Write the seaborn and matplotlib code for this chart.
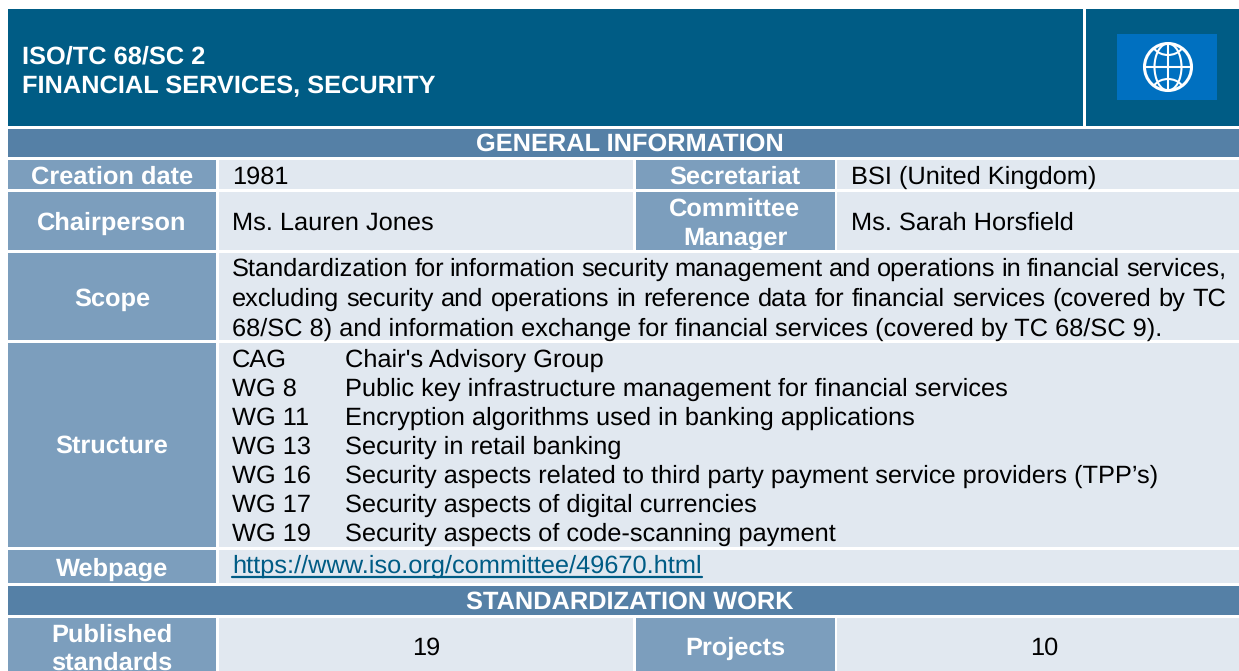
import matplotlib

matplotlib.use("Agg")
import matplotlib.pyplot as plt
import seaborn as sns
from matplotlib.patches import Arc, Circle, Ellipse, Rectangle

title_lines = ["ISO/TC 68/SC 2", "FINANCIAL SERVICES, SECURITY"]
band_titles = ["GENERAL INFORMATION", "STANDARDIZATION WORK"]
row_labels = ["Creation date", "Chairperson", "Scope", "Structure", "Webpage", "Published\nstandards"]
pair_labels = ["Secretariat", "Committee\nManager", "Projects"]
row_values = ["1981", "Ms. Lauren Jones"]
pair_values = ["BSI (United Kingdom)", "Ms. Sarah Horsfield"]
scope_lines = [
    "Standardization for information security management and operations in financial services,",
    "excluding security and operations in reference data for financial services (covered by TC",
    "68/SC 8) and information exchange for financial services (covered by TC 68/SC 9).",
]
group_codes = ["CAG", "WG 8", "WG 11", "WG 13", "WG 16", "WG 17", "WG 19"]
group_names = [
    "Chair's Advisory Group",
    "Public key infrastructure management for financial services",
    "Encryption algorithms used in banking applications",
    "Security in retail banking",
    "Security aspects related to third party payment service providers (TPP’s)",
    "Security aspects of digital currencies",
    "Security aspects of code-scanning payment",
]
webpage = "https://www.iso.org/committee/49670.html"
published_standards = 19
projects = 10

DARK = "#005C85"
BAND = "#5580A6"
LABEL = "#7C9EBD"
VALUE = "#E1E8F0"
LINK = "#005C85"
GLOBE = "#0070C0"
SIZE = 18.3

sns.set_theme(style="white")
plt.rcParams["font.family"] = ["Liberation Sans", "DejaVu Sans"]
plt.rcParams["text.hinting"] = "none"

fig, ax = plt.subplots(figsize=(12.39, 6.71), dpi=100)
ax.set_position([0, 0, 1, 1])
ax.set_xlim(0, 1239)
ax.set_ylim(671, 0)
ax.axis("off")


def cell(x0, x1, y0, y1, color):
    ax.add_patch(Rectangle((x0, y0), x1 - x0, y1 - y0, fc=color, ec="none"))


def label(x, y, s, ha="center", spacing=1.15, va="center"):
    ax.text(x, y, s, fontsize=SIZE, color="white", ha=ha, va=va, fontweight="bold",
            linespacing=spacing, clip_on=True)


def body(x, y, s, ha="left", color="black"):
    # y is the baseline
    return ax.text(x, y, s, fontsize=SIZE, color=color, ha=ha, va="baseline", clip_on=True)


def justified(x0, x1, y, s):
    # word by word so the line ends at the cell edge, like the original
    words = s.split(" ")
    rend = fig.canvas.get_renderer()
    widths = []
    for w in words:
        t = body(0, y, w)
        widths.append(t.get_window_extent(rend).width)
        t.remove()
    gap = (x1 - x0 - sum(widths)) / (len(words) - 1)
    x = x0
    for w, wd in zip(words, widths):
        body(x, y, w)
        x += wd + gap


# header
cell(8, 1083, 9, 126, DARK)
cell(1086, 1239, 9, 126, DARK)
label(22, 63, title_lines[0], ha="left", va="baseline")
label(22, 93, title_lines[1], ha="left", va="baseline")

# globe icon
cell(1117, 1217, 34, 100, GLOBE)
gx, gy = 1168, 67
ax.add_patch(Circle((gx, gy), 23.5, fc="none", ec="white", lw=2.2))
ax.add_patch(Ellipse((gx, gy), 27, 47, fc="none", ec="white", lw=1.5))
ax.plot([gx, gx], [gy - 23, gy + 23], color="white", lw=1.5)
ax.plot([gx - 23, gx + 23], [gy, gy], color="white", lw=1.5)
ax.add_patch(Arc((gx, gy - 26), 33, 28, theta1=30, theta2=150, ec="white", lw=1.5))
ax.add_patch(Arc((gx, gy + 26), 33, 28, theta1=210, theta2=330, ec="white", lw=1.5))

# bands
cell(8, 1239, 129, 157, BAND)
label(630, 144, band_titles[0])
cell(8, 1239, 586, 615, BAND)
label(630, 602, band_titles[1])

# left label column
rows = [(160, 189), (192, 250), (253, 340), (343, 547), (550, 583), (618, 671)]
for (y0, y1) in rows:
    cell(8, 216, y0, y1, LABEL)
for (y0, y1) in rows[2:5]:
    cell(219, 1239, y0, y1, VALUE)
label(112, 177, row_labels[0])
label(112, 223, row_labels[1])
label(112, 299, row_labels[2])
label(112, 446, row_labels[3])
label(112, 569, row_labels[4])
# the second line runs past the bottom edge in the original too
label(112, 649, row_labels[5], spacing=1.27)

# rows with a second label/value pair
for (y0, y1) in [rows[0], rows[1], rows[5]]:
    cell(219, 633, y0, y1, VALUE)
    cell(636, 835, y0, y1, LABEL)
    cell(837, 1239, y0, y1, VALUE)
label(735, 177, pair_labels[0])
label(735, 224, pair_labels[1], spacing=1.33)
label(735, 648, pair_labels[2])

body(232, 184, row_values[0])
body(232, 230, row_values[1])
body(851, 184, pair_values[0])
body(851, 230, pair_values[1])
body(426, 655, str(published_standards), ha="center")
body(1044, 655, str(projects), ha="center")

# scope text
justified(232, 1226, 276, scope_lines[0])
justified(232, 1226, 306, scope_lines[1])
body(232, 336, scope_lines[2])

# working groups
for i, (code, name) in enumerate(zip(group_codes, group_names)):
    body(232, 367 + 29 * i, code)
    body(345, 367 + 29 * i, name)

# link
t = body(232, 573, webpage, color=LINK)
ext = t.get_window_extent(fig.canvas.get_renderer())
ax.plot([232, 232 + ext.width], [577, 577], color=LINK, lw=1.6)

sns.despine(left=True, bottom=True)
fig.savefig("out.png", dpi=100)
plt.close(fig)
